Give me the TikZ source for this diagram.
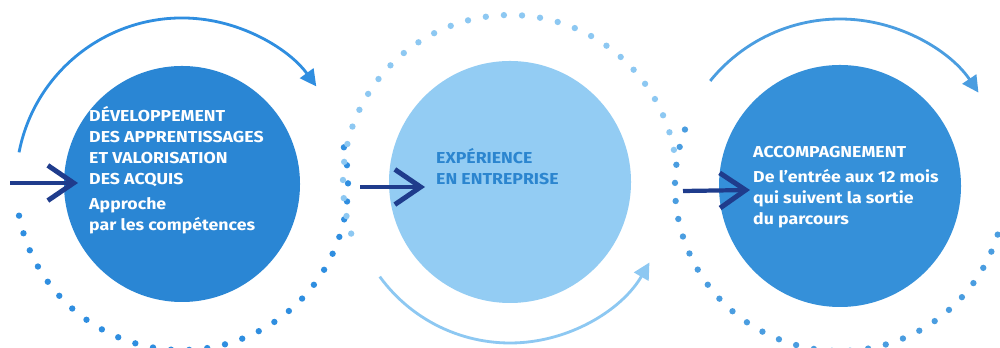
\documentclass[tikz,border=0pt]{standalone}
\usepackage{fontspec}
\setmainfont{Fira Sans}[FakeStretch=1.12]
\usepackage{tikz}
\usepackage{xcolor}
\usetikzlibrary{arrows.meta}
\definecolor{devblue}{HTML}{2A86D4}
\definecolor{expblue}{HTML}{93CCF3}
\definecolor{accblue}{HTML}{3590D9}
\definecolor{exptext}{HTML}{2B85CF}
\definecolor{devring}{HTML}{2F8EE0}
\definecolor{expring}{HTML}{8DC8F2}
\definecolor{accring}{HTML}{4A9DE0}
\definecolor{arrownavy}{HTML}{1F3C8C}
\tikzset{
    step-circle/.style = {circle, inner sep=0pt, minimum size=7.08cm},
    step-text/.style = {anchor=north west, inner sep=0pt, align=left, text=white, font=\bfseries\fontsize{13.5}{18}\selectfont},
    ring-arc/.style = {line width=2.4pt, -{Triangle[length=14pt, width=14pt]}},
    ring-dots/.style = {line width=5.4pt, line cap=round, dash pattern=on 0pt off 15.5pt},
    entry-arrow/.style = {draw=arrownavy, line width=3.6pt, -{Straight Barb[length=22pt, width=30pt, line width=4.2pt]}},
}

\begin{document}
\begin{tikzpicture}[x=0.03cm, y=0.03cm]
\useasboundingbox[fill=white] (0,0) rectangle (1000,348);
\node[step-circle, fill=devblue] (dev) at (182,164) {};
\node[step-circle, fill=expblue, minimum size=7.26cm] (exp) at (510,166) {};
\node[step-circle, fill=accblue, minimum size=7.26cm] (acc) at (840,162) {};

\draw[ring-arc, draw=devring] (dev.center) ++(169:166) arc[start angle=169, end angle=36, radius=166];
\draw[ring-dots, draw=devring] (dev.center) ++(191:166) arc[start angle=191, end angle=377, radius=166];
\draw[ring-dots, draw=expring] (exp.center) ++(198:167) arc[start angle=198, end angle=10, radius=167];
\draw[ring-arc, draw=expring] (exp.center) ++(216:161) arc[start angle=216, end angle=330, radius=161];
\draw[ring-arc, draw=accring] (acc.center) ++(141:167) arc[start angle=141, end angle=34, radius=167];
\draw[ring-dots, draw=accring] (acc.center) ++(160:165) arc[start angle=160, end angle=344, radius=165];

\coordinate (dev-in) at (10,165);
\coordinate (dev-tip) at (78,165);
\coordinate (exp-in) at (360,161);
\coordinate (exp-tip) at (425,161);
\coordinate (acc-in) at (683,157);
\coordinate (acc-tip) at (750,158);
\draw[entry-arrow] (dev-in) -- (dev-tip);
\draw[entry-arrow] (exp-in) -- (exp-tip);
\draw[entry-arrow] (acc-in) -- (acc-tip);

\node[step-text] (dev-label) at (89,242) {DÉVELOPPEMENT\\DES APPRENTISSAGES\\ET VALORISATION\\DES ACQUIS\\[3pt]Approche\\par les compétences};
\node[step-text, text=exptext] (exp-label) at (436,200) {EXPÉRIENCE\\EN ENTREPRISE};
\node[step-text] (acc-label) at (753,202) {ACCOMPAGNEMENT\\[3pt]De l’entrée aux 12 mois\\qui suivent la sortie\\du parcours};
\end{tikzpicture}
\end{document}
